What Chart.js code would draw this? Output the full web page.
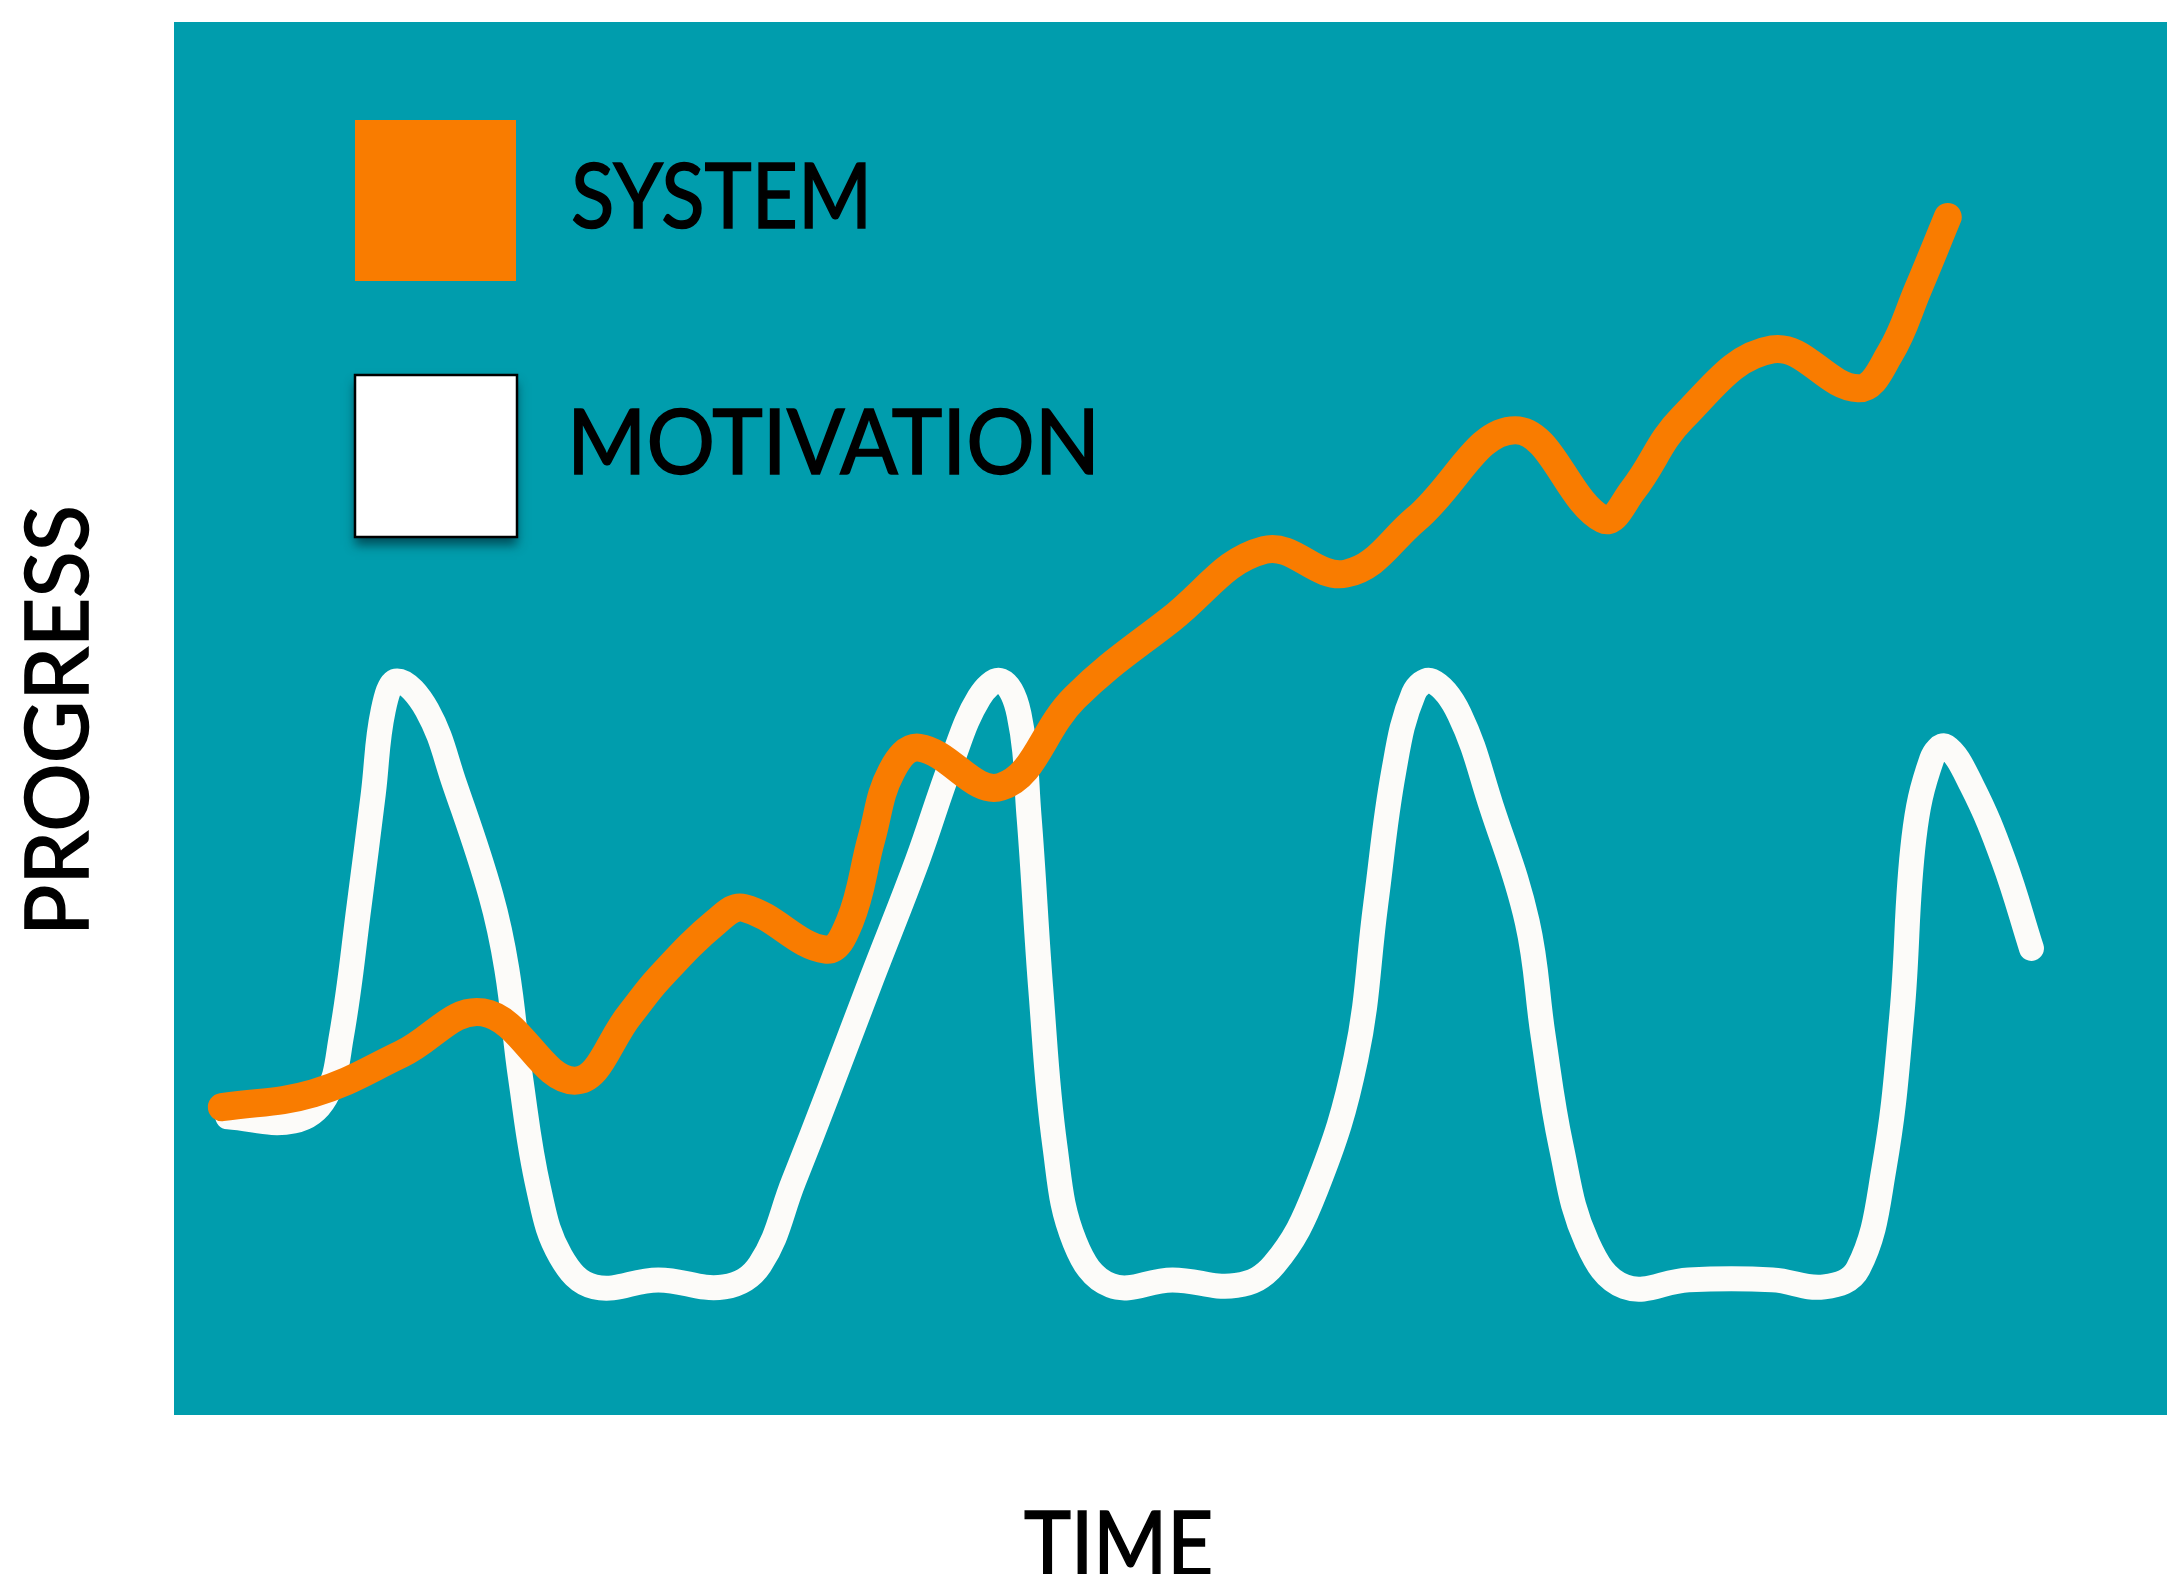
<!DOCTYPE html>
<html>
<head>
<meta charset="utf-8">
<script src="https://cdn.jsdelivr.net/npm/chart.js@4/dist/chart.umd.min.js"></script>
<style>
  html, body { margin: 0; padding: 0; background: #ffffff; }
  #wrap { width: 2167px; height: 1574px; }
</style>
</head>
<body>
<div id="wrap"><canvas id="chart" width="2167" height="1574"></canvas></div>
<script>
// Series: time (x) and progress (y), 0–100 on both axes
const seriesLabels = ['SYSTEM', 'MOTIVATION'];

const systemTime = [2.4, 7.0, 11.4, 15.5, 20.1, 22.9, 24.3, 27.2, 28.6, 32.7,
  33.9, 35.0, 36.0, 37.4, 41.5, 45.2, 50.0, 54.7, 58.8, 62.3,
  67.3, 71.7, 73.2, 75.7, 80.2, 84.5, 86.1, 87.5, 89.0];
const systemProgress = [22.1, 23.1, 25.9, 28.9, 24.0, 28.8, 31.3, 35.4, 36.4, 33.4,
  35.4, 41.4, 46.2, 47.9, 45.1, 51.5, 57.1, 62.1, 60.4, 64.3,
  70.7, 64.3, 66.4, 71.6, 76.5, 73.7, 76.2, 80.8, 86.0];

const motivationTime = [2.7, 6.0, 7.6, 8.4, 9.3, 10.0, 10.5, 11.2, 12.7, 14.1,
  15.9, 16.7, 17.4, 18.3, 19.4, 21.1, 24.3, 27.6, 29.4, 31.1,
  32.9, 35.0, 37.3, 39.0, 40.4, 41.5, 42.4, 42.9, 43.5, 44.2,
  45.2, 47.0, 50.1, 53.3, 55.2, 57.3, 59.3, 60.3, 61.2, 62.2,
  63.1, 64.5, 66.1, 67.9, 68.7, 69.6, 70.9, 72.8, 76.0, 80.2,
  82.8, 84.5, 85.8, 86.7, 87.3, 88.2, 88.9, 90.2, 91.8, 93.2];
const motivationProgress = [21.4, 21.1, 22.8, 27.2, 36.7, 44.6, 50.6, 52.7, 50.6, 45.2,
  37.3, 32.0, 24.1, 16.2, 11.4, 9.2, 9.7, 9.2, 10.8, 16.8,
  23.4, 31.3, 39.8, 46.8, 51.5, 52.7, 50.3, 43.0, 30.4, 19.3,
  12.4, 9.3, 9.7, 9.3, 10.8, 16.2, 25.6, 36.7, 46.2, 51.8,
  52.7, 50.3, 43.7, 35.4, 27.2, 19.3, 12.4, 9.2, 9.7, 9.7,
  9.2, 10.5, 17.7, 28.8, 41.4, 47.1, 48.0, 45.2, 39.8, 33.5];

const axisTitles = { x: 'TIME', y: 'PROGRESS' };

const PLOT_BG = '#009DAD';
const ORANGE = '#F97C00';
const CREAM = '#FCFBF9';
const FONT = 'Lato, "Open Sans", "DejaVu Sans", sans-serif';

const toPoints = (xs, ys) => xs.map((x, i) => ({ x, y: ys[i] }));

// Draws a medium-weight label, squeezed horizontally into a given width
function fitText(ctx, text, x, y, width, size) {
  ctx.save();
  ctx.font = '400 ' + size + 'px ' + FONT;
  ctx.textAlign = 'left';
  ctx.textBaseline = 'alphabetic';
  ctx.fillStyle = '#000000';
  ctx.strokeStyle = '#000000';
  ctx.lineWidth = 1.6;
  ctx.lineJoin = 'miter';
  const w = ctx.measureText(text).width + 1;
  ctx.translate(x, y);
  ctx.scale(width / w, 1);
  ctx.fillText(text, 0, 0);
  ctx.strokeText(text, 0, 0);
  ctx.restore();
}

// Teal plot background, hand-placed legend and axis titles
const decor = {
  id: 'decor',
  beforeDraw(chart) {
    const { ctx, chartArea: a } = chart;
    ctx.save();
    ctx.fillStyle = PLOT_BG;
    ctx.fillRect(a.left, a.top, a.right - a.left, a.bottom - a.top);
    ctx.restore();
  },
  afterDraw(chart) {
    const { ctx } = chart;
    const ds = chart.data.datasets;
    ctx.save();

    // legend boxes
    const boxX = 355, boxW = 162;
    const rows = [120, 375];
    const baselines = [228, 474];
    const labelWidths = [302, 534];
    ds.forEach((d, i) => {
      const y = rows[i];
      ctx.save();
      if (i === 1) {
        ctx.shadowColor = 'rgba(0, 45, 55, 0.7)';
        ctx.shadowBlur = 10;
        ctx.shadowOffsetY = 8;
        ctx.fillStyle = '#ffffff';
        ctx.fillRect(boxX, y, boxW, boxW);
        ctx.shadowColor = 'transparent';
        ctx.lineWidth = 2.5;
        ctx.strokeStyle = '#000000';
        ctx.strokeRect(boxX, y, boxW, boxW);
      } else {
        ctx.fillStyle = d.borderColor;
        ctx.fillRect(boxX, y, boxW - 1, boxW - 1);
      }
      ctx.restore();
      fitText(ctx, d.label, i === 1 ? 567 : 571, baselines[i], labelWidths[i], 91);
    });

    // axis titles
    fitText(ctx, axisTitles.x, 1024, 1576, 190, 91);

    ctx.save();
    ctx.translate(88, 936);
    ctx.rotate(-Math.PI / 2);
    fitText(ctx, axisTitles.y, 0, 0, 432, 87);
    ctx.restore();

    ctx.restore();
  }
};

new Chart(document.getElementById('chart'), {
  type: 'line',
  data: {
    datasets: [
      {
        label: seriesLabels[0],
        data: toPoints(systemTime, systemProgress),
        borderColor: ORANGE,
        borderWidth: 28,
        borderCapStyle: 'round',
        borderJoinStyle: 'round',
        tension: 0.4,
        pointRadius: 0,
        fill: false
      },
      {
        label: seriesLabels[1],
        data: toPoints(motivationTime, motivationProgress),
        borderColor: CREAM,
        borderWidth: 25,
        borderCapStyle: 'round',
        borderJoinStyle: 'round',
        tension: 0.4,
        pointRadius: 0,
        fill: false
      }
    ]
  },
  options: {
    responsive: false,
    animation: false,
    events: [],
    layout: { padding: { left: 174, top: 22, right: 0, bottom: 159 } },
    scales: {
      x: { type: 'linear', min: 0, max: 100, display: false },
      y: { type: 'linear', min: 0, max: 100, display: false }
    },
    plugins: {
      legend: { display: false },
      tooltip: { enabled: false },
      title: { display: false }
    }
  },
  plugins: [decor]
});
</script>
</body>
</html>
